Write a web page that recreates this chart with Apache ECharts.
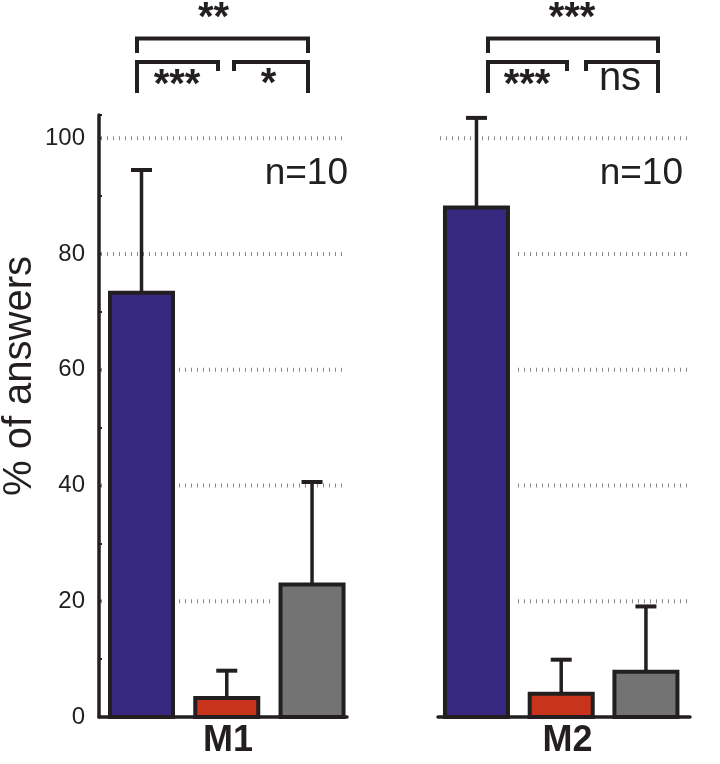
<!DOCTYPE html>
<html><head><meta charset="utf-8">
<script src="https://cdn.jsdelivr.net/npm/echarts@6/dist/echarts.min.js"></script>
<style>html,body{margin:0;padding:0;background:#fff}#chart{width:720px;height:764px}</style>
</head><body><div id="chart"></div>
<script>
// ---- data ----
const groups = ['M1', 'M2'];
const conditions = ['condition 1', 'condition 2', 'condition 3'];
const m1Values = [73.3, 3.3, 22.9];
const m1Errors = [21.2, 4.7, 17.7];
const m2Values = [88.0, 4.0, 7.8];
const m2Errors = [15.5, 5.9, 11.3];
const sampleLabels = ['n=10', 'n=10'];
const yTickLabels = [0, 20, 40, 60, 80, 100];
const gridValues = [20, 40, 60, 80, 100];
const m1Significance = ['**', '***', '*'];   // 1 vs 3, 1 vs 2, 2 vs 3
const m2Significance = ['***', '***', 'ns'];

// ---- styles / layout ----
const barColors = ['#36297F', '#C8341B', '#737373'];
const ink = '#231F20';
const FONT = 'Liberation Sans, Arial, sans-serif';

const chart = echarts.init(document.getElementById('chart'), null, {renderer: 'canvas'});

function gridSeries(idx) {
  return {
    type: 'custom', xAxisIndex: idx, yAxisIndex: idx, z: 1, silent: true,
    data: gridValues.map(v => [0, v]),
    renderItem(params, api) {
      const y = api.coord([0, api.value(1)])[1];
      const cs = params.coordSys;
      return {type: 'line', shape: {x1: cs.x + 2, y1: y, x2: cs.x + cs.width, y2: y},
        style: {stroke: '#888', lineWidth: 4, lineDash: [1, 5]}};
    }
  };
}
function barSeries(idx, values, errors) {
  return {
    type: 'custom', xAxisIndex: idx, yAxisIndex: idx, z: 3, silent: true,
    data: values.map((v, i) => [i, v, errors[i]]),
    renderItem(params, api) {
      const i = api.value(0), v = api.value(1), e = api.value(2);
      const top = api.coord([i, v]), base = api.coord([i, 0]), errTop = api.coord([i, v + e]);
      const w = 63, cx = top[0];
      return {type: 'group', children: [
        {type: 'rect', shape: {x: cx - w / 2 - 6, y: top[1] - 6, width: w + 12, height: base[1] - top[1] + 4},
          style: {fill: '#fff'}},
        {type: 'line', shape: {x1: cx, y1: top[1], x2: cx, y2: errTop[1]},
          style: {stroke: ink, lineWidth: 3.5}},
        {type: 'line', shape: {x1: cx - 10.5, y1: errTop[1], x2: cx + 10.5, y2: errTop[1]},
          style: {stroke: ink, lineWidth: 4}},
        {type: 'rect', shape: {x: cx - w / 2, y: top[1], width: w, height: base[1] - top[1]},
          style: {fill: barColors[i], stroke: ink, lineWidth: 4}}
      ]};
    }
  };
}

const brackets = [
  {pts: [[137, 53], [137, 38.5], [308, 38.5], [308, 53]], label: m1Significance[0], x: 213.5, y: 19},
  {pts: [[137, 93], [137, 62], [218, 62], [218, 71]], label: m1Significance[1], x: 177, y: 86},
  {pts: [[234, 71], [234, 62], [308, 62], [308, 93]], label: m1Significance[2], x: 268.5, y: 85},
  {pts: [[488, 53], [488, 38.5], [658, 38.5], [658, 53]], label: m2Significance[0], x: 572, y: 19},
  {pts: [[488, 93], [488, 62], [567, 62], [567, 71]], label: m2Significance[1], x: 527, y: 86},
  {pts: [[586, 71], [586, 62], [658, 62], [658, 93]], label: m2Significance[2], x: 620, y: 79}
];

const graphics = [];
brackets.forEach(b => {
  graphics.push({type: 'polyline', shape: {points: b.pts}, style: {stroke: ink, lineWidth: 4, fill: null, lineJoin: 'miter'}, silent: true});
  const isNs = b.label === 'ns';
  graphics.push({type: 'text', x: b.x, y: b.y, silent: true,
    style: {text: b.label, fill: ink, font: (isNs ? 'normal 40px ' : 'bold 40px ') + FONT, align: 'center', verticalAlign: 'middle'}});
});
graphics.push({type: 'text', x: 348, y: 174, silent: true,
  style: {text: sampleLabels[0], fill: ink, font: '37px ' + FONT, align: 'right', verticalAlign: 'middle'}});
graphics.push({type: 'text', x: 683, y: 174, silent: true,
  style: {text: sampleLabels[1], fill: ink, font: '37px ' + FONT, align: 'right', verticalAlign: 'middle'}});
graphics.push({type: 'text', x: 20, y: 376, rotation: Math.PI / 2, silent: true,
  style: {text: '% of answers', fill: ink, font: '40px ' + FONT, align: 'center', verticalAlign: 'middle'}});

function xAxisFor(idx, min, max, padLeft) {
  return {
    gridIndex: idx, type: 'value', min: min, max: max,
    axisLine: {show: true, onZero: false, lineStyle: {color: ink, width: 3.5}},
    axisTick: {show: false}, axisLabel: {show: false}, splitLine: {show: false},
    name: groups[idx], nameLocation: 'middle', nameGap: 6,
    nameTextStyle: {color: ink, fontSize: 36, fontWeight: 'bold', fontFamily: FONT, padding: [0, 0, 0, padLeft]}
  };
}

const option = {
  animation: false,
  backgroundColor: '#fff',
  grid: [
    {left: 99, top: 115, width: 248, height: 607},
    {left: 438, top: 115, width: 252, height: 607}
  ],
  xAxis: [xAxisFor(0, -0.4985, 2.41, 10), xAxisFor(1, -0.454, 2.52, 7)],
  yAxis: [
    {gridIndex: 0, type: 'value', min: 0, max: 104, interval: 10,
      axisLine: {show: true, onZero: false, lineStyle: {color: ink, width: 3.5}},
      axisTick: {show: true, inside: true, length: 3, lineStyle: {color: ink, width: 2}},
      axisLabel: {fontSize: 24, color: ink, fontFamily: FONT, margin: 14,
        formatter: v => (yTickLabels.indexOf(v) >= 0 ? String(v) : '')},
      splitLine: {show: false}},
    {gridIndex: 1, type: 'value', min: 0, max: 104, interval: 10, show: false,
      axisLine: {onZero: false}, splitLine: {show: false}}
  ],
  series: [
    gridSeries(0), gridSeries(1),
    barSeries(0, m1Values, m1Errors),
    barSeries(1, m2Values, m2Errors)
  ],
  graphic: graphics
};
chart.setOption(option);
</script>
</body></html>
